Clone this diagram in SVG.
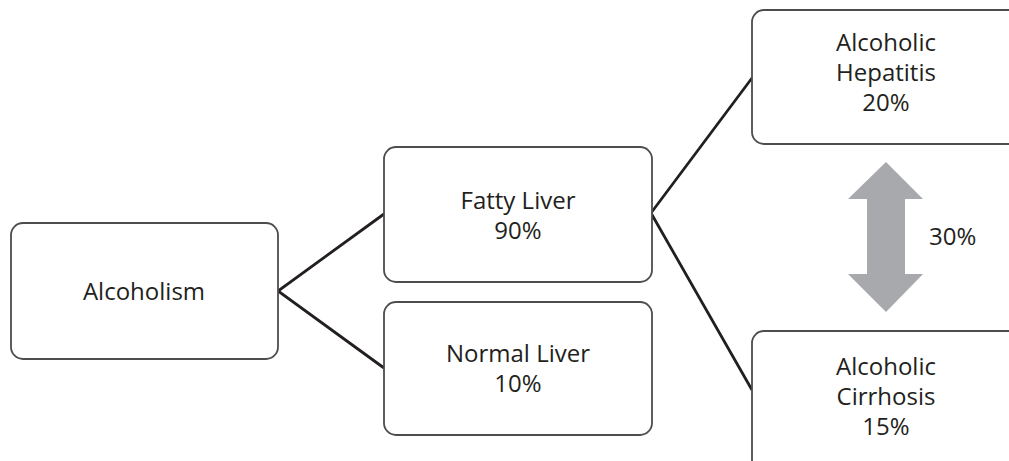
<svg xmlns="http://www.w3.org/2000/svg" width="1009" height="461" viewBox="0 0 1009 461">
<style>
.box{fill:#fff;stroke:#4d4d4d;stroke-width:1.8}
.t{font-family:"Open Sans","Liberation Sans",sans-serif;font-size:24px;fill:#231f20;text-anchor:middle}
.c{fill:none;stroke:#231f20;stroke-width:2.8}
</style>
<rect width="1009" height="461" fill="#fff"/>
<g id="connectors">
<path class="c" d="M384,214 L278,291 L384,368"/>
<path class="c" d="M752,78 L651,213 L752,390"/>
<path id="arrow30" d="M886,162 L923,199 L905,199 L905,274 L923,274 L886,312 L848,274 L867,274 L867,199 L848,199 Z" fill="#a7a9ac"/>
<text class="t" x="929" y="245" style="text-anchor:start">30%</text>
</g>
<g id="alcoholism">
<rect class="box" x="11" y="223" width="267" height="136" rx="12"/>
<text class="t" x="144" y="300">Alcoholism</text>
</g>
<g id="fatty">
<rect class="box" x="384" y="147" width="268" height="135" rx="12"/>
<text class="t" x="518" y="209">Fatty Liver</text>
<text class="t" x="518" y="239">90%</text>
</g>
<g id="normal">
<rect class="box" x="384" y="302" width="268" height="133" rx="12"/>
<text class="t" x="518" y="362">Normal Liver</text>
<text class="t" x="518" y="392">10%</text>
</g>
<g id="hepatitis">
<rect class="box" x="752" y="10" width="280" height="134" rx="12"/>
<text class="t" x="886" y="51">Alcoholic</text>
<text class="t" x="886" y="81">Hepatitis</text>
<text class="t" x="886" y="111">20%</text>
</g>
<g id="cirrhosis">
<rect class="box" x="752" y="331" width="280" height="160" rx="12"/>
<text class="t" x="886" y="375">Alcoholic</text>
<text class="t" x="886" y="405">Cirrhosis</text>
<text class="t" x="886" y="435">15%</text>
</g>
</svg>
